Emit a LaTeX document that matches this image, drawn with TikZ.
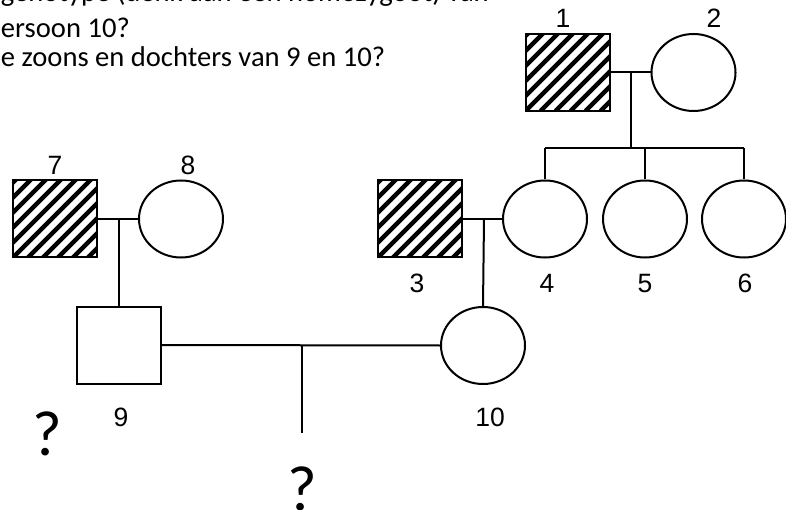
\documentclass[tikz,border=0pt]{standalone}
\usepackage{fontspec}
\setmainfont{Carlito}
\newfontfamily\labelfont{Liberation Sans}
\usetikzlibrary{shapes.geometric}
\begin{document}
\begin{tikzpicture}[x=1pt,y=-1pt,line width=2pt,
  male/.style={draw,rectangle,minimum width=84pt,minimum height=77pt,inner sep=0pt},
  female/.style={draw,ellipse,minimum width=84pt,minimum height=77pt,inner sep=0pt},
  affected/.style={male,path picture={
      \foreach \k in {-120,-105,...,120}
        \draw[line width=4.5pt] ([xshift=\k pt]path picture bounding box.south west) -- ++(130pt,130pt);
    }},
  numlabel/.style={anchor=base,inner sep=0pt,font=\labelfont\fontsize{26.5}{31}\selectfont},
  qmark/.style={anchor=base,inner sep=0pt,font=\fontsize{64}{70}\selectfont},
  textline/.style={anchor=base west,inner sep=0pt,font=\fontsize{28.6}{34}\selectfont}]
\useasboundingbox (0,0) rectangle (786,510);

% question text
\node[textline] (q1) at (0,1.5) {genotype (denk aan een homozygoot) van};
\node[textline] (q2) at (0,38) {ersoon 10?};
\node[textline] (q3) at (0,67) {e zoons en dochters van 9 en 10?};

% generation I
\node[affected] (p1) at (567.5,72.5) {};
\node[female]   (p2) at (693.5,72.5) {};
% generation II
\node[affected] (p3) at (420,219) {};
\node[female]   (p4) at (545,219) {};
\node[female]   (p5) at (645,219) {};
\node[female]   (p6) at (744,219) {};
\node[affected] (p7) at (55,219) {};
\node[female]   (p8) at (181,219) {};
% generation III
\node[male]     (p9) at (118.5,345) {};
\node[female]   (p10) at (483,345.5) {};

% labels
\node[numlabel] (l1) at (563,28) {1};
\node[numlabel] (l2) at (714,28) {2};
\node[numlabel] (l7) at (55,175) {7};
\node[numlabel] (l8) at (188,175) {8};
\node[numlabel] (l3) at (417,293) {3};
\node[numlabel] (l4) at (547,293) {4};
\node[numlabel] (l5) at (645,293) {5};
\node[numlabel] (l6) at (745,293) {6};
\node[numlabel] (l9) at (121,426) {9};
\node[numlabel] (l10) at (490,426) {10};

% unknown offspring
\node[qmark] (u1) at (47,455) {?};
\node[qmark] (u2) at (302,510) {?};

% couple 1 x 2 and their daughters
\coordinate (m12) at (631,72.5);
\coordinate (s12) at (631,148);
\draw (p1.east) -- (p2.west);
\draw (m12) -- (s12);
\draw (p4 |- s12) -- (p6 |- s12);
\draw (p4 |- s12) -- (p4.north);
\draw (p5 |- s12) -- (p5.north);
\draw (p6 |- s12) -- (p6.north);

% couple 3 x 4 and daughter 10
\coordinate (m34) at (484,219);
\draw (p3.east) -- (p4.west);
\draw (m34) -- (p10.north);

% couple 7 x 8 and son 9
\coordinate (m78) at (118.5,219);
\draw (p7.east) -- (p8.west);
\draw (m78) -- (p9.north);

% couple 9 x 10 and their children
\coordinate (m910) at (302,345);
\coordinate (c910) at (302,433);
\draw (p9.east) -- (p10.west);
\draw (m910) -- (c910);
\end{tikzpicture}
\end{document}
